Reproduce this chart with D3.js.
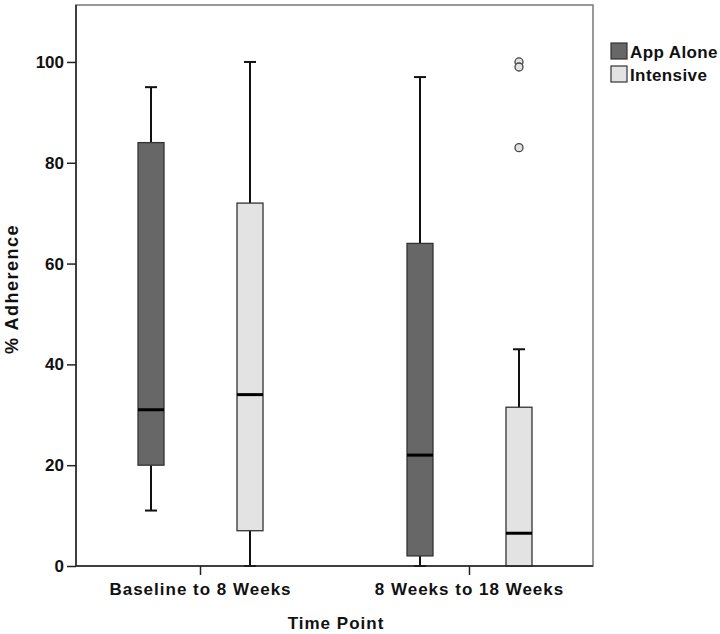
<!DOCTYPE html>
<html><head><meta charset="utf-8">
<script src="https://cdn.jsdelivr.net/npm/d3@7"></script>
<style>body{margin:0;background:#fff}svg{display:block}text{font-family:"Liberation Sans",Arial,sans-serif;font-weight:bold;fill:#111}</style>
</head><body><svg id="c" width="720" height="634"></svg>
<script>
const categories = ["Baseline to 8 Weeks", "8 Weeks to 18 Weeks"];
const groups = ["App Alone", "Intensive"];
const groupColors = ["#676767", "#e3e3e3"];
// [lowWhisker, q1, median, q3, highWhisker] per category
const appAlone = [[11, 20, 31, 84, 95], [0, 2, 22, 64, 97]];
const intensive = [[0, 7, 34, 72, 100], [0, 0, 6.5, 31.5, 43]];
const outliersIntensive = [[], [100, 99, 83]];
const yTicks = [0, 20, 40, 60, 80, 100];

const FF = "Liberation Sans, Arial, sans-serif";
const svg = d3.select("#c");
const L = 76, R = 593, T = 5, B = 566;
const y = d3.scaleLinear().domain([0, 111.3]).range([B, T]);
const x = d3.scalePoint().domain(categories).range([L, R]).padding(0.461);
const sub = d3.scalePoint().domain(groups).range([-49, 50]);
const bw = 26, capW = 12;

// frame
svg.append("rect").attr("x", L).attr("y", T).attr("width", R - L).attr("height", B - T)
  .attr("fill", "none").attr("stroke", "#777").attr("stroke-width", 1.5);

const series = [appAlone, intensive];
series.forEach((s, gi) => {
  s.forEach((d, ci) => {
    const cx = x(categories[ci]) + sub(groups[gi]);
    const g = svg.append("g");
    g.append("line").attr("x1", cx).attr("x2", cx).attr("y1", y(d[3])).attr("y2", y(d[4])).attr("stroke", "#111").attr("stroke-width", 2);
    g.append("line").attr("x1", cx).attr("x2", cx).attr("y1", y(d[1])).attr("y2", y(d[0])).attr("stroke", "#111").attr("stroke-width", 2);
    if (d[4] > d[3]) g.append("line").attr("x1", cx - capW / 2).attr("x2", cx + capW / 2).attr("y1", y(d[4])).attr("y2", y(d[4])).attr("stroke", "#111").attr("stroke-width", 2);
    if (d[0] < d[1]) g.append("line").attr("x1", cx - capW / 2).attr("x2", cx + capW / 2).attr("y1", y(d[0])).attr("y2", y(d[0])).attr("stroke", "#111").attr("stroke-width", 2);
    g.append("rect").attr("x", cx - bw / 2).attr("y", y(d[3])).attr("width", bw).attr("height", y(d[1]) - y(d[3]))
      .attr("fill", groupColors[gi]).attr("stroke", "#333").attr("stroke-width", 1.3);
    g.append("line").attr("x1", cx - bw / 2).attr("x2", cx + bw / 2).attr("y1", y(d[2])).attr("y2", y(d[2])).attr("stroke", "#000").attr("stroke-width", 3);
  });
});
outliersIntensive.forEach((os, ci) => {
  const cx = x(categories[ci]) + sub(groups[1]);
  os.forEach(v => svg.append("circle").attr("cx", cx).attr("cy", y(v)).attr("r", 4)
    .attr("fill", "#e3e3e3").attr("stroke", "#444").attr("stroke-width", 1.3));
});

// axes
const ya = svg.append("g").attr("transform", `translate(${L},0)`)
  .call(d3.axisLeft(y).tickValues(yTicks).tickSize(9).tickSizeOuter(0).tickPadding(3));
ya.select(".domain").attr("stroke", "#222").attr("stroke-width", 1.5).attr("d", `M0,${T}V${B}`);
ya.selectAll(".tick line").attr("stroke", "#222").attr("stroke-width", 1.5);
ya.selectAll(".tick text").attr("font-size", 17).attr("fill", "#111").attr("font-family", FF).attr("font-weight", "bold");

const xa = svg.append("g").attr("transform", `translate(0,${B})`)
  .call(d3.axisBottom(x).tickSize(9).tickSizeOuter(0).tickPadding(8));
xa.select(".domain").attr("stroke", "#222").attr("stroke-width", 1.5).attr("d", `M${L},0H${R}`);
xa.selectAll(".tick line").attr("stroke", "#222").attr("stroke-width", 1.5);
xa.selectAll(".tick text").attr("font-size", 17).attr("fill", "#111").attr("font-family", FF)
  .attr("font-weight", "bold").attr("letter-spacing", 1);

svg.append("text").attr("x", 336).attr("y", 629).attr("text-anchor", "middle").attr("font-size", 17)
  .attr("letter-spacing", 1).text("Time Point");
svg.append("text").attr("transform", `translate(18,289) rotate(-90)`).attr("text-anchor", "middle")
  .attr("font-size", 18).attr("letter-spacing", 1.5).text("% Adherence");

// legend
groups.forEach((gname, i) => {
  const ly = 43 + i * 23;
  svg.append("rect").attr("x", 611).attr("y", ly).attr("width", 16).attr("height", 16)
    .attr("fill", groupColors[i]).attr("stroke", "#333").attr("stroke-width", 1.2);
  svg.append("text").attr("x", 630).attr("y", ly + 15).attr("font-size", 17).attr("letter-spacing", 0.4).text(gname);
});
</script></body></html>
